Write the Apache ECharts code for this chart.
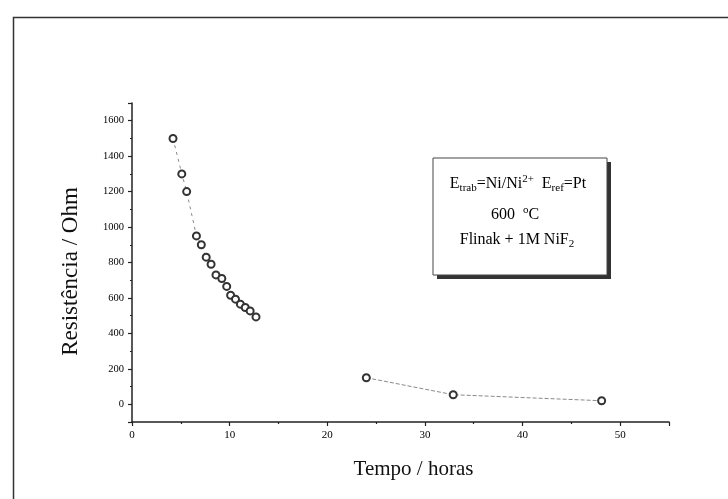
<!DOCTYPE html>
<html>
<head>
<meta charset="utf-8">
<script src="https://cdn.jsdelivr.net/npm/echarts@6/dist/echarts.min.js"></script>
<style>
html,body{margin:0;padding:0;background:#fff;}
#chart{width:728px;height:499px;}
</style>
</head>
<body>
<div id="chart"></div>
<script>
// Data
// first run of measurements (dense, early hours)
var tempoInicial = [4.2, 5.1, 5.6, 6.6, 7.1, 7.6, 8.1, 8.6, 9.2, 9.7, 10.1, 10.6, 11.1, 11.6, 12.1, 12.7];
var resistInicial = [1500, 1300, 1200, 950, 900, 830, 790, 730, 710, 665, 615, 593, 565, 546, 527, 493];
// later measurements
var tempoFinal = [24.0, 32.9, 48.1];
var resistFinal = [150, 54, 20];
var xTitle = 'Tempo / horas';
var yTitle = 'Resistência / Ohm';
var boxLines = ['{n|E}{s|trab}{n|=Ni/Ni}{p|2+}{n|  E}{s|ref}{n|=Pt}', '{n|600  }{p|o}{n|C}', '{n|Flinak + 1M NiF}{s|2}'];

function pairs(xs, ys) { return xs.map(function (t, i) { return [t, ys[i]]; }); }
var serif = '"Liberation Serif", "DejaVu Serif", serif';

var markStyle = {color: '#333', borderColor: '#333', borderWidth: 1.3};

var chart = echarts.init(document.getElementById('chart'), null, {renderer: 'canvas'});
chart.setOption({
  backgroundColor: '#fff',
  animation: false,
  grid: {left: 132, right: 59, top: 103, bottom: 77, containLabel: false},
  xAxis: {
    type: 'value', min: 0, max: 55, interval: 10,
    name: xTitle, nameLocation: 'middle', nameGap: 37,
    nameTextStyle: {fontFamily: serif, fontSize: 21, color: '#111', padding: [0, 0, 0, 26]},
    axisLine: {show: true, onZero: false, lineStyle: {color: '#222', width: 1.5}},
    axisTick: {show: true, inside: false, length: 4, lineStyle: {color: '#222', width: 1.2}},
    minorTick: {show: true, splitNumber: 2, length: 2, lineStyle: {color: '#222', width: 1.2}},
    splitLine: {show: false},
    axisLabel: {fontFamily: serif, fontSize: 11, color: '#000', margin: 8,
      formatter: function (v) { return v % 10 === 0 ? String(v) : ''; }}
  },
  yAxis: {
    type: 'value', min: -100, max: 1700, splitNumber: 9,
    name: yTitle, nameLocation: 'middle', nameGap: 50, nameRotate: 90,
    nameTextStyle: {fontFamily: serif, fontSize: 23, color: '#111', padding: [0, 18, 0, 0]},
    axisLine: {show: true, onZero: false, lineStyle: {color: '#222', width: 1.5}},
    axisTick: {show: true, inside: false, length: 4, lineStyle: {color: '#222', width: 1.2}},
    minorTick: {show: true, splitNumber: 2, length: 2, lineStyle: {color: '#222', width: 1.2}},
    splitLine: {show: false},
    axisLabel: {fontFamily: serif, fontSize: 10.5, color: '#000', margin: 8,
      formatter: function (v) { return (v % 200 === 0 && v >= 0 && v <= 1600) ? String(v) : ''; }}
  },
  series: [{
    type: 'line',
    data: pairs(tempoInicial, resistInicial),
    symbol: 'emptyCircle', symbolSize: 7, showSymbol: true,
    itemStyle: markStyle,
    lineStyle: {color: '#8a8a8a', width: 1, type: [3, 4]},
    z: 3
  }, {
    type: 'line',
    data: pairs(tempoFinal, resistFinal),
    symbol: 'emptyCircle', symbolSize: 7, showSymbol: true,
    itemStyle: markStyle,
    lineStyle: {color: '#8a8a8a', width: 1, type: [4, 2]},
    z: 3
  }],
  graphic: [
    {type: 'rect', left: 11, top: 15, shape: {x: 0, y: 0, width: 760, height: 520},
      style: {fill: 'none', stroke: '#333', lineWidth: 1.5}, silent: true},
    {type: 'rect', shape: {x: 437, y: 162, width: 174, height: 117},
      style: {fill: '#333', stroke: 'none'}, z: 10},
    {type: 'rect', shape: {x: 433, y: 158, width: 174, height: 117},
      style: {fill: '#fff', stroke: '#444', lineWidth: 1}, z: 11},
    {type: 'text', x: 518, y: 184, z: 12,
      style: {text: boxLines[0], align: 'center', verticalAlign: 'middle',
        rich: {n: {fontFamily: serif, fontSize: 16, color: '#111'},
               s: {fontFamily: serif, fontSize: 11, color: '#111', padding: [9, 0, 0, 0]},
               p: {fontFamily: serif, fontSize: 11, color: '#111', padding: [0, 0, 9, 0]}}}},
    {type: 'text', x: 515, y: 215, z: 12,
      style: {text: boxLines[1], align: 'center', verticalAlign: 'middle',
        rich: {n: {fontFamily: serif, fontSize: 16, color: '#111'},
               p: {fontFamily: serif, fontSize: 11, color: '#111', padding: [0, 0, 9, 0]}}}},
    {type: 'text', x: 517, y: 240, z: 12,
      style: {text: boxLines[2], align: 'center', verticalAlign: 'middle',
        rich: {n: {fontFamily: serif, fontSize: 16, color: '#111'},
               s: {fontFamily: serif, fontSize: 11, color: '#111', padding: [9, 0, 0, 0]}}}}
  ]
});
</script>
</body>
</html>
